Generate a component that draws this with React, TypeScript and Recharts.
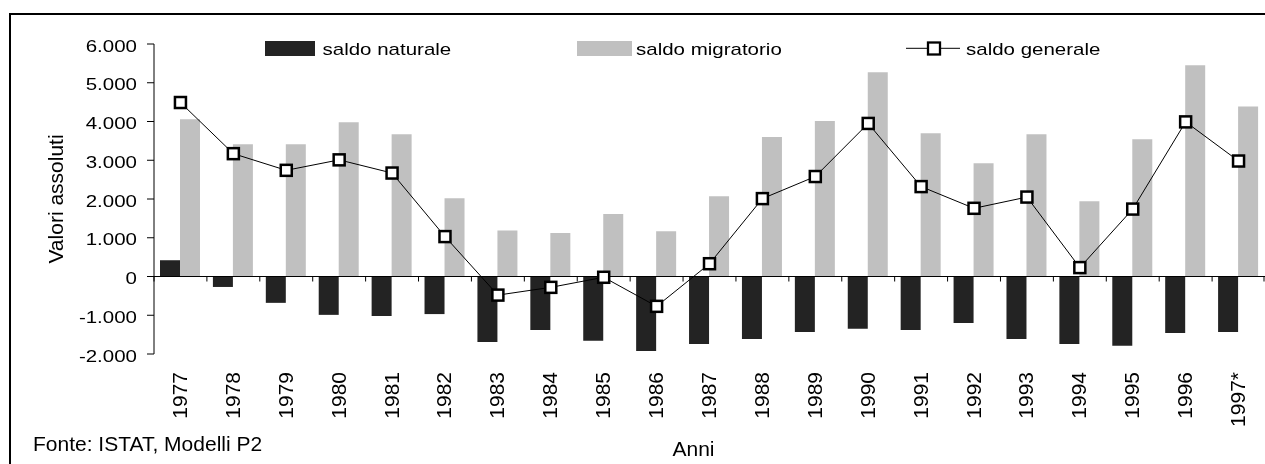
import React from 'react';
import {ComposedChart, Bar, Line, XAxis, YAxis, ReferenceLine, Customized} from 'recharts';

const years = ['1977', '1978', '1979', '1980', '1981', '1982', '1983', '1984', '1985', '1986', '1987',
    '1988', '1989', '1990', '1991', '1992', '1993', '1994', '1995', '1996', '1997*'];
const saldoNaturale = [420, -270, -680, -990, -1020, -970, -1690, -1380, -1660, -1920, -1740,
    -1610, -1430, -1350, -1380, -1200, -1610, -1740, -1790, -1460, -1430];
const saldoMigratorio = [4060, 3410, 3410, 3980, 3670, 2020, 1190, 1120, 1610, 1170, 2070,
    3600, 4010, 5270, 3700, 2920, 3670, 1940, 3540, 5450, 4390];
const saldoGenerale = [4490, 3170, 2740, 3010, 2670, 1030, -480, -280, -20, -770, 330,
    2010, 2580, 3950, 2320, 1760, 2050, 230, 1740, 3990, 2980];
const yTicks = [-2000, -1000, 0, 1000, 2000, 3000, 4000, 5000, 6000];

const data = years.map((year, i) => ({
    year,
    naturale: saldoNaturale[i],
    migratorio: saldoMigratorio[i],
    generale: saldoGenerale[i],
}));

const FONT = '"Liberation Sans", Arial, sans-serif';
const DARK = '#232323';
const LIGHT = '#c0c0c0';

// layout of the plot area (chart coords)
const W = 1257;
const H = 456;
const TOP = 36;
const LEFT = 146;
const PLOT_H = 310;
const BAND = (W - LEFT) / years.length;
const ZERO_Y = TOP + PLOT_H * (6000 / 8000); // where 0 sits in the domain [-2000, 6000]

const fmt = (v) => {
    if (v === 0) return '0';
    const s = Math.abs(v).toString().replace(/\B(?=(\d{3})+(?!\d))/g, '.');
    return (v < 0 ? '-' : '') + s;
};

// horizontal texts in the source are squashed vertically
const Squashed = ({x, y, children, anchor = 'start', size = 20.5}) => (
    <text transform={`translate(${x},${y}) scale(1,0.84)`} textAnchor={anchor}
          fontFamily={FONT} fontSize={size} fill="#000">{children}</text>
);

const YTick = (props) => {
    const {x, y, payload} = props;
    return <Squashed x={x} y={y + 7.5} anchor="end">{fmt(payload.value)}</Squashed>;
};

const XTick = (props) => {
    const {x, y, payload, index} = props;
    const last = index === years.length - 1;
    return (
        <g>
            <line x1={x - BAND / 2} x2={x - BAND / 2} y1={ZERO_Y} y2={ZERO_Y + 5} stroke="#000"/>
            {last && <line x1={x + BAND / 2 - 1} x2={x + BAND / 2 - 1} y1={ZERO_Y} y2={ZERO_Y + 5} stroke="#000"/>}
            <text transform={`translate(${x + 6.5},${y + 18}) rotate(-90)`} textAnchor="end"
                  fontFamily={FONT} fontSize={21} fill="#000">{payload.value}</text>
        </g>
    );
};

const SquareDot = (props) => {
    const {cx, cy, index} = props;
    if (cx == null || cy == null) return null;
    return <rect key={`dot-${index}`} x={cx - 5.5} y={cy - 5.5} width={11} height={11}
                 fill="#fff" stroke="#000" strokeWidth={2.5}/>;
};

const Extras = () => (
    <g>
        {/* legend */}
        <rect x={257} y={33} width={50} height={15} fill={DARK}/>
        <Squashed x={314.5} y={47}>saldo naturale</Squashed>
        <rect x={569} y={33} width={55} height={15} fill={LIGHT}/>
        <Squashed x={628} y={47}>saldo migratorio</Squashed>
        <line x1={898} x2={952} y1={40.3} y2={40.3} stroke="#000" strokeWidth={1}/>
        <rect x={920} y={34.5} width={12} height={12} fill="#fff" stroke="#000" strokeWidth={2.3}/>
        <Squashed x={958} y={47}>saldo generale</Squashed>

        {/* axis titles and source */}
        <text transform="translate(55.3,191) rotate(-90)" textAnchor="middle"
              fontFamily={FONT} fontSize={21} fill="#000">Valori assoluti</text>
        <text x={685.5} y={448} textAnchor="middle" fontFamily={FONT} fontSize={21} fill="#000">Anni</text>
        <text x={25} y={442.7} fontFamily={FONT} fontSize={21} fill="#000">Fonte: ISTAT, Modelli P2</text>
    </g>
);

const App = () => {
    return (
        <div style={{position: 'fixed', left: 8, top: 8, width: W, height: H, overflow: 'hidden'}}>
            <div style={{
                position: 'absolute', left: 1, top: 5, width: 1256, height: 451,
                boxSizing: 'border-box', borderLeft: '2px solid #000', borderTop: '2px solid #000'
            }}/>
            <ComposedChart
                width={W}
                height={H}
                data={data}
                margin={{top: TOP, right: 0, left: 8, bottom: 0}}
                barGap={0}
                style={{position: 'absolute', left: 0, top: 0}}
            >
                <XAxis dataKey="year" axisLine={false} tickLine={false} tickSize={0} tickMargin={0}
                       interval={0} height={H - TOP - PLOT_H} tick={<XTick/>}/>
                <YAxis domain={[-2000, 6000]} ticks={yTicks} width={LEFT - 8} interval={0}
                       axisLine={{stroke: '#000'}} tickLine={{stroke: '#000'}} tickSize={7} tickMargin={10}
                       tick={<YTick/>}/>
                <Bar dataKey="naturale" barSize={20} fill={DARK} isAnimationActive={false}/>
                <Bar dataKey="migratorio" barSize={20} fill={LIGHT} isAnimationActive={false}/>
                <ReferenceLine y={0} stroke="#000" strokeWidth={1}/>
                <Line dataKey="generale" type="linear" stroke="#000" strokeWidth={1}
                      dot={<SquareDot/>} activeDot={false} isAnimationActive={false}/>
                <Customized component={<Extras/>}/>
            </ComposedChart>
        </div>
    );
}

export default App
